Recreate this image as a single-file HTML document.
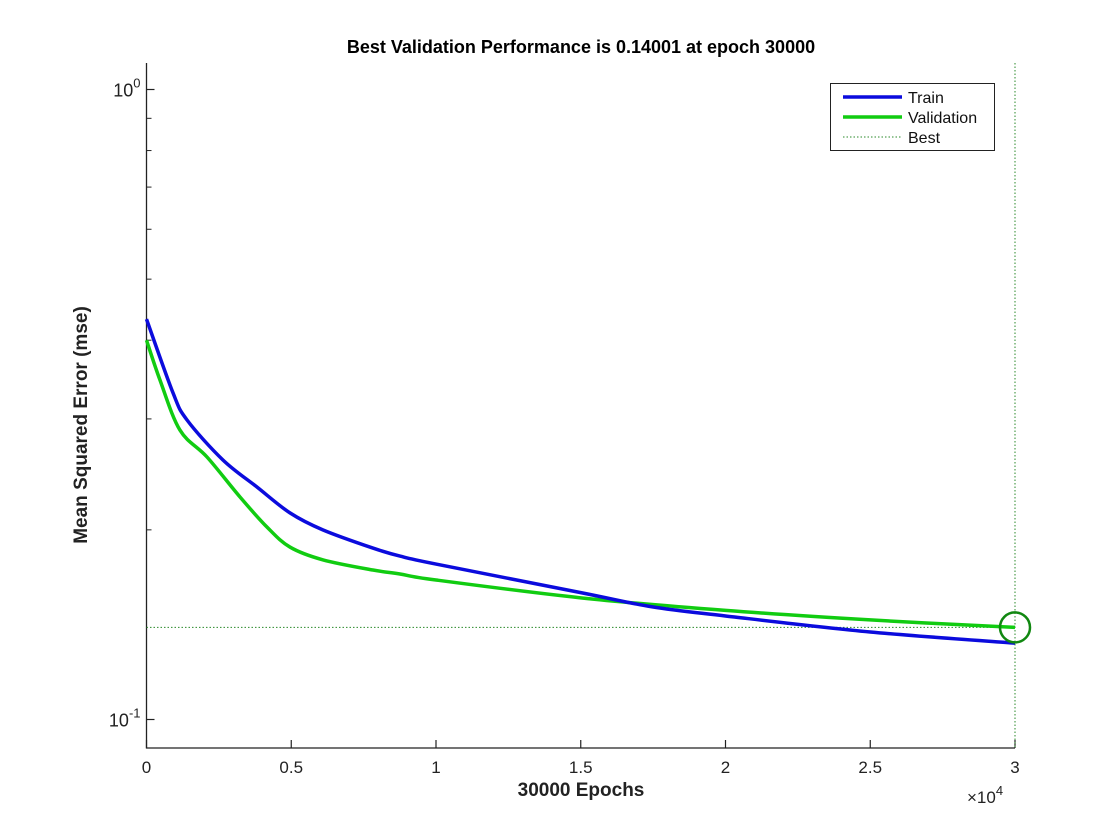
<!DOCTYPE html>
<html><head><meta charset="utf-8"><style>
body{margin:0;background:#fff}
svg{display:block;font-family:"Liberation Sans",Arial,sans-serif}
</style></head><body>
<svg id="chart" width="1120" height="840">
<g id="axes"></g>
<g id="marks"></g>
</svg>
<script>
const epochs = [0, 915, 1400, 2640, 3815, 4955, 6100, 7820, 8755, 10000, 15000, 17450, 20000, 25000, 30000];
const trainMse = [0.432, 0.330, 0.2988, 0.2582, 0.2339, 0.2128, 0.1999, 0.1871, 0.1817, 0.1765, 0.159, 0.151, 0.146, 0.1377, 0.1322];
const valEpochs = [0, 465, 1155, 2090, 3230, 4160, 4955, 6100, 7820, 8755, 10000, 15000, 20000, 25000, 30000];
const valMse = [0.400, 0.3458, 0.288, 0.261, 0.2255, 0.2021, 0.1878, 0.1792, 0.1727, 0.1702, 0.1665, 0.156, 0.149, 0.1439, 0.14001];
const bestEpoch = 30000;
const bestMse = 0.14001;
const xTicks = [0, 5000, 10000, 15000, 20000, 25000, 30000];
const xTickLabels = ["0", "0.5", "1", "1.5", "2", "2.5", "3"];
const yMinor = [0.2, 0.3, 0.4, 0.5, 0.6, 0.7, 0.8, 0.9];

const NS = "http://www.w3.org/2000/svg";
const L = 146.5, R = 1015, T = 63, B = 748;
const xMax = 30000;
function sx(v){ return L + (v / xMax) * (R - L); }
function sy(v){ return 89.5 - Math.log10(v) * 630; }
function mk(tag, attrs, parent, text){
  const e = document.createElementNS(NS, tag);
  for (const k in attrs) e.setAttribute(k, attrs[k]);
  if (text !== undefined) e.textContent = text;
  parent.appendChild(e);
  return e;
}
const axes = document.getElementById('axes');
const marks = document.getElementById('marks');

let e = mk('path', {d:`M${L},${T}V${B}H${R}`, stroke:'#222', fill:'none', 'stroke-width':1.3}, axes);



xTicks.forEach((t, i) => {
  const x = sx(t);
  let tk = mk('line', {x1:x, x2:x, y1:B, y2:B-8, stroke:'#222', 'stroke-width':1.2}, axes);
  
  
  let lb = mk('text', {x:x, y:B+25, 'text-anchor':'middle', 'font-size':17, fill:'#222'}, axes, xTickLabels[i]);
  
  
});
[1, 0.1].forEach((v, i) => {
  const y = sy(v);
  let tk = mk('line', {x1:L, x2:L+8, y1:y, y2:y, stroke:'#222', 'stroke-width':1.2}, axes);
  
  
  let lb = mk('text', {x:L-6, y:y+7, 'text-anchor':'end', 'font-size':18, fill:'#222'}, axes);
  
  
  mk('tspan', {}, lb, '10');
  mk('tspan', {dy:-9, 'font-size':13}, lb, i === 0 ? '0' : '-1');
});
yMinor.forEach(v => {
  const y = sy(v);
  let tk = mk('line', {x1:L, x2:L+5, y1:y, y2:y, stroke:'#222', 'stroke-width':1}, axes);
  
  
});

let t = mk('text', {x:581, y:53, 'text-anchor':'middle', 'font-size':18, 'font-weight':'bold', fill:'#000'}, axes, 'Best Validation Performance is 0.14001 at epoch 30000');


t = mk('text', {x:581, y:796, 'text-anchor':'middle', 'font-size':19, 'font-weight':'bold', fill:'#222'}, axes, '30000 Epochs');


t = mk('text', {x:0, y:0, 'text-anchor':'middle', 'font-size':19, 'font-weight':'bold', fill:'#222', 'xml:space':'preserve', transform:'translate(87,425) rotate(-90)'}, axes, 'Mean Squared Error  (mse)');


t = mk('text', {x:967, y:803, 'font-size':17, fill:'#222'}, axes);


mk('tspan', {}, t, '×10');
mk('tspan', {dy:-8, 'font-size':13}, t, '4');

function smooth(xs, ys){
  const p = xs.map((x, i) => [sx(x), sy(ys[i])]);
  let d = `M${p[0][0]},${p[0][1]}`;
  for (let i = 0; i < p.length - 1; i++){
    const p0 = p[i-1] || p[i], p1 = p[i], p2 = p[i+1], p3 = p[i+2] || p2;
    const c1 = [p1[0] + (p2[0]-p0[0])/6, p1[1] + (p2[1]-p0[1])/6];
    const c2 = [p2[0] - (p3[0]-p1[0])/6, p2[1] - (p3[1]-p1[1])/6];
    d += `C${c1[0]},${c1[1]} ${c2[0]},${c2[1]} ${p2[0]},${p2[1]}`;
  }
  return d;
}
let bl = mk('line', {x1:L, x2:R, y1:sy(bestMse), y2:sy(bestMse), stroke:'#2a8a2a', 'stroke-width':1, 'stroke-dasharray':'1.5,2'}, marks);


bl = mk('line', {x1:sx(bestEpoch), x2:sx(bestEpoch), y1:T, y2:B, stroke:'#2a8a2a', 'stroke-width':1, 'stroke-dasharray':'1.5,2'}, marks);



let ln = mk('path', {d:smooth(valEpochs, valMse), stroke:'#11cc11', 'stroke-width':3.5, fill:'none'}, marks);


ln = mk('path', {d:smooth(epochs, trainMse), stroke:'#0b0bdd', 'stroke-width':3.5, fill:'none'}, marks);


let c = mk('circle', {cx:sx(bestEpoch), cy:sy(bestMse), r:15, stroke:'#118811', 'stroke-width':2.5, fill:'none'}, marks);



const lg = mk('g', {}, marks);


mk('rect', {x:830.5, y:83.5, width:164, height:67, fill:'#fff', stroke:'#222', 'stroke-width':1}, lg);
const entries = [['Train','#0b0bdd',3.5,null],['Validation','#11cc11',3.5,null],['Best','#2a8a2a',1,'1.5,2']];
entries.forEach((en, i) => {
  const y = 97 + i*20;
  const g = mk('g', {}, lg);
  
  
  const a = {x1:843, x2:902, y1:y, y2:y, stroke:en[1], 'stroke-width':en[2]};
  if (en[3]) a['stroke-dasharray'] = en[3];
  mk('line', a, g);
  mk('text', {x:908, y:y+6, 'font-size':16, fill:'#111'}, g, en[0]);
});
</script>
</body></html>
